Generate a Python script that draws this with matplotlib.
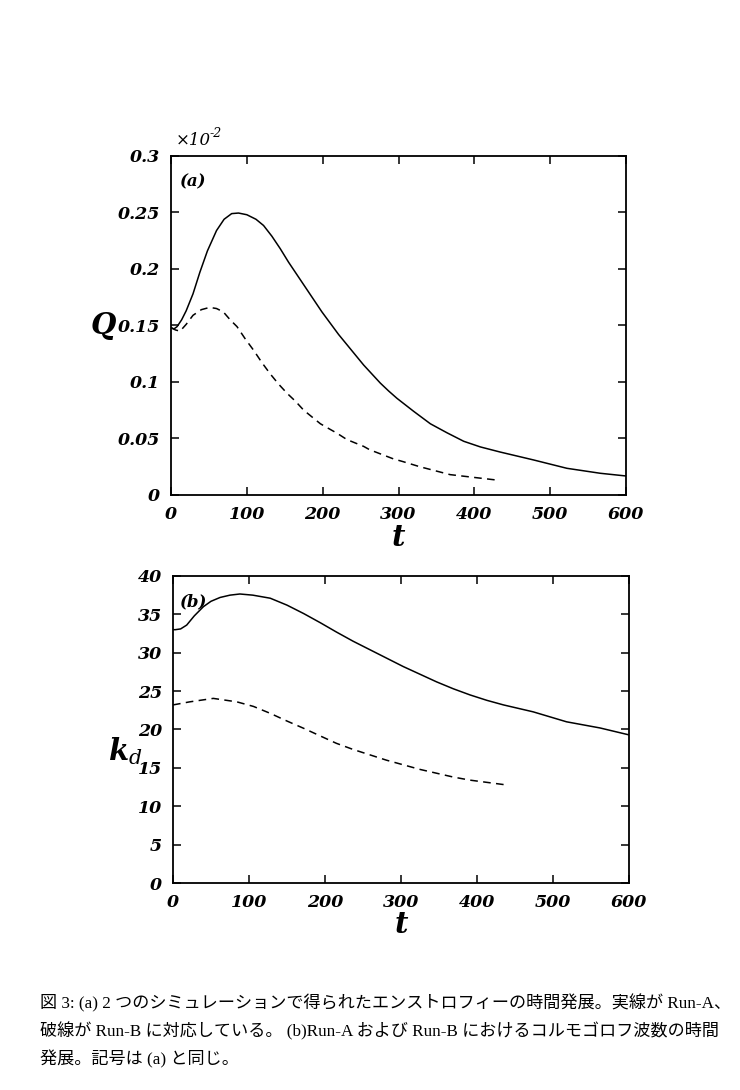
import numpy as np
import matplotlib
matplotlib.use("Agg")
import matplotlib.pyplot as plt

# values
# (a) enstrophy Q, in units of 1e-2
t_qa = [0, 4, 8, 14, 20, 29, 38, 48, 60, 70, 80, 89, 100, 112, 122, 133, 144,
        155, 166, 177, 188, 199, 210, 221, 232, 243, 254, 265, 276, 287, 298,
        320, 342, 364, 386, 408, 434, 478, 522, 566, 600]
q_a = [0.148, 0.147, 0.149, 0.155, 0.163, 0.178, 0.197, 0.216, 0.234, 0.244,
       0.249, 0.2495, 0.248, 0.244, 0.2385, 0.229, 0.218, 0.206, 0.195, 0.184,
       0.173, 0.162, 0.152, 0.142, 0.133, 0.124, 0.115, 0.107, 0.099, 0.092,
       0.0855, 0.074, 0.063, 0.055, 0.0475, 0.0425, 0.038, 0.031, 0.0236, 0.0192,
       0.0168]
t_qb = [0, 6, 12, 20, 29, 40, 51, 60, 69, 78, 87, 98, 109, 120, 131, 142, 153,
        164, 175, 186, 197, 210, 219, 232, 254, 262, 293, 306, 328, 368, 400, 432]
q_b = [0.148, 0.146, 0.145, 0.151, 0.159, 0.164, 0.166, 0.165, 0.162, 0.155,
       0.149, 0.138, 0.128, 0.117, 0.107, 0.098, 0.090, 0.083, 0.075, 0.069,
       0.063, 0.058, 0.0546, 0.049, 0.043, 0.040, 0.032, 0.0295, 0.025, 0.018,
       0.0155, 0.013]

# (b) Kolmogorov wavenumber k_d
t_ka = [0, 3, 10, 18, 28, 40, 50, 62, 75, 88, 105, 128, 150, 172, 194, 215,
        237, 259, 281, 303, 325, 347, 369, 391, 413, 435, 474, 518, 562, 600]
k_a = [33.0, 33.0, 33.1, 33.6, 34.8, 36.0, 36.7, 37.2, 37.5, 37.65, 37.5, 37.1,
       36.2, 35.1, 33.9, 32.7, 31.5, 30.4, 29.3, 28.2, 27.2, 26.2, 25.3, 24.5,
       23.8, 23.2, 22.3, 21.0, 20.2, 19.3]
t_kb = [0, 22, 53, 84, 106, 128, 150, 172, 194, 215, 237, 259, 281, 303, 325,
        347, 369, 391, 414, 437]
k_b = [23.2, 23.6, 24.05, 23.6, 23.0, 22.1, 21.1, 20.15, 19.15, 18.2, 17.4,
       16.7, 16.0, 15.4, 14.8, 14.3, 13.8, 13.4, 13.1, 12.8]

x_ticks = [0, 100, 200, 300, 400, 500, 600]
q_ticks = [0, 0.05, 0.1, 0.15, 0.2, 0.25, 0.3]
q_labels = ["0", "0.05", "0.1", "0.15", "0.2", "0.25", "0.3"]
k_ticks = [0, 5, 10, 15, 20, 25, 30, 35, 40]

caption = ["図 3: (a) 2 つのシミュレーションで得られたエンストロフィーの時間発展。実線が Run-A、",
           "破線が Run-B に対応している。 (b)Run-A および Run-B におけるコルモゴロフ波数の時間",
           "発展。記号は (a) と同じ。"]

tick_font = dict(family="DejaVu Serif", style="italic", weight="bold", size=12.5)
lab_font = dict(family="DejaVu Serif", style="italic", weight="bold", size=21)

fig = plt.figure(figsize=(7.4, 10.9), dpi=100)
ax1 = fig.add_axes([0.2311, 0.5459, 0.6149, 0.311])
ax2 = fig.add_axes([0.2338, 0.1899, 0.616, 0.2817])

dash = (0, (5, 3.5))
ax1.plot(t_qa, q_a, color="black", lw=1.1)
ax1.plot(t_qb, q_b, color="black", lw=1.1, linestyle=dash)
ax2.plot(t_ka, k_a, color="black", lw=1.1)
ax2.plot(t_kb, k_b, color="black", lw=1.1, linestyle=dash)

for ax in (ax1, ax2):
    ax.set_xlim(0, 600)
    ax.set_xticks(x_ticks)
    ax.set_xticklabels([str(v) for v in x_ticks], fontdict=tick_font)
    ax.tick_params(direction="in", top=True, right=True, length=6, width=1.1, pad=8)
    for s in ax.spines.values():
        s.set_linewidth(1.3)

ax1.set_ylim(0, 0.3)
ax1.set_yticks(q_ticks)
ax1.set_yticklabels(q_labels, fontdict=tick_font)
ax2.set_ylim(0, 40)
ax2.set_yticks(k_ticks)
ax2.set_yticklabels([str(v) for v in k_ticks], fontdict=tick_font)

ax1.text(0.5, -0.125, "t", transform=ax1.transAxes, ha="center", va="center", **lab_font)
ax2.text(0.5, -0.135, "t", transform=ax2.transAxes, ha="center", va="center", **lab_font)
ax1.text(-0.148, 0.5, "Q", transform=ax1.transAxes, ha="center", va="center", **lab_font)
# k_d as one mathtext label so the subscript sits with the k
ax2.text(-0.105, 0.43, r"$\boldsymbol{k}_{d}$", transform=ax2.transAxes,
         ha="center", va="center", size=21, math_fontfamily="dejavuserif")

ax1.text(0.01, 1.045, "×10", transform=ax1.transAxes, ha="left", va="center",
         family="DejaVu Serif", style="italic", size=12)
ax1.text(0.085, 1.065, "-2", transform=ax1.transAxes, ha="left", va="center",
         family="DejaVu Serif", style="italic", size=9)
ax1.text(0.02, 0.925, "(a)", transform=ax1.transAxes, ha="left", va="center",
         family="DejaVu Serif", style="italic", weight="bold", size=12)
ax2.text(0.015, 0.915, "(b)", transform=ax2.transAxes, ha="left", va="center",
         family="DejaVu Serif", style="italic", weight="bold", size=12)

for i, line in enumerate(caption):
    fig.text(40 / 740, 1 - (1003 + 28 * i) / 1090, line, ha="left", va="center",
             family=["Liberation Serif", "Noto Sans CJK JP"], size=12.3)

fig.savefig("out.png", dpi=100)
